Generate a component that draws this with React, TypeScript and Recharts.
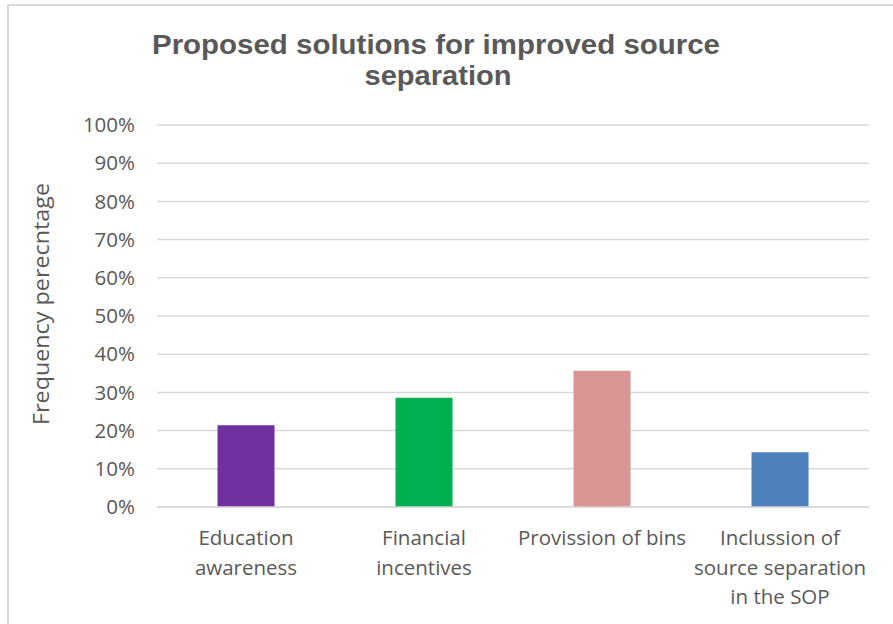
import { Bar, BarChart, CartesianGrid, Cell, XAxis, YAxis } from "recharts"

const categories = [
  "Education awareness",
  "Financial incentives",
  "Provission of bins",
  "Inclussion of source separation in the SOP",
]
const frequency = [0.214, 0.286, 0.357, 0.143]
const barColors = ["#7030A0", "#00B050", "#DA9694", "#4F81BD"]
const yTicks = [0, 0.1, 0.2, 0.3, 0.4, 0.5, 0.6, 0.7, 0.8, 0.9, 1]
const titleLines = ["Proposed solutions for improved source", "separation"]

const data = categories.map((category, i) => ({ category, frequency: frequency[i] }))

const textColor = "#595959"
const gridColor = "#D9D9D9"
const font = "'Open Sans', sans-serif"

// greedy word wrap, roughly like the excel labels
function wrap(text: string, maxChars: number) {
  const lines: string[] = []
  let cur = ""
  for (const w of text.split(" ")) {
    const next = cur ? cur + " " + w : w
    if (next.length > maxChars && cur) {
      lines.push(cur)
      cur = w
    } else {
      cur = next
    }
  }
  if (cur) lines.push(cur)
  return lines
}

function CategoryTick(props: any) {
  const { x, y, payload } = props
  const lines = wrap(payload.value, 18)
  return (
    <text x={x} y={y} textAnchor="middle" fill={textColor} fontSize={20.5} fontFamily={font}>
      {lines.map((line, i) => (
        <tspan key={i} x={x} dy={i === 0 ? 38 : 29.5}>
          {line}
        </tspan>
      ))}
    </text>
  )
}

function YLabel(props: any) {
  const { x, y, height } = props.viewBox
  const cx = x + 40
  const cy = y + height / 2 - 12
  return (
    <text
      x={cx}
      y={cy}
      transform={`rotate(-90 ${cx} ${cy})`}
      textAnchor="middle"
      dominantBaseline="central"
      fill={textColor}
      fontSize={22}
      fontFamily={font}
      textLength={242}
      lengthAdjust="spacingAndGlyphs"
    >
      Frequency perecntage
    </text>
  )
}

export default function App() {
  return (
    <div style={{ position: "absolute", left: 0, top: 0, width: 893, height: 624, background: "#fff", overflow: "hidden" }}>
      <div
        style={{
          position: "absolute",
          left: 7,
          top: 4,
          width: 950,
          height: 700,
          border: `2px solid ${gridColor}`,
          boxSizing: "border-box",
        }}
      />
      <svg width={893} height={110} style={{ position: "absolute", left: 0, top: 0 }}>
        <text
          x={436}
          y={54}
          textAnchor="middle"
          fill={textColor}
          fontSize={27}
          fontWeight="bold"
          fontFamily="'Liberation Sans', Arial, sans-serif"
          textLength={568}
          lengthAdjust="spacingAndGlyphs"
        >
          {titleLines[0]}
        </text>
        <text
          x={438}
          y={85}
          textAnchor="middle"
          fill={textColor}
          fontSize={27}
          fontWeight="bold"
          fontFamily="'Liberation Sans', Arial, sans-serif"
          textLength={147}
          lengthAdjust="spacingAndGlyphs"
        >
          {titleLines[1]}
        </text>
      </svg>
      <div style={{ position: "absolute", left: 0, top: 0 }}>
        <BarChart
          width={893}
          height={624}
          data={data}
          margin={{ top: 125, right: 24, bottom: 17, left: 0 }}
          barCategoryGap="34%"
        >
          <CartesianGrid vertical={false} stroke={gridColor} strokeWidth={1.5} />
          <XAxis
            dataKey="category"
            height={100}
            axisLine={{ stroke: gridColor, strokeWidth: 1.5 }}
            tickLine={false}
            tickSize={0}
            tickMargin={0}
            interval={0}
            tick={<CategoryTick />}
          />
          <YAxis
            width={157}
            domain={[0, 1]}
            ticks={yTicks}
            tickFormatter={(v: number) => `${Math.round(v * 100)}%`}
            axisLine={false}
            tickLine={false}
            tickSize={0}
            tickMargin={22}
            tick={{ fill: textColor, fontSize: 20.5, fontFamily: font }}
            label={<YLabel />}
          />
          <Bar dataKey="frequency" isAnimationActive={false}>
            {data.map((d, i) => (
              <Cell key={d.category} fill={barColors[i]} />
            ))}
          </Bar>
        </BarChart>
      </div>
    </div>
  )
}
